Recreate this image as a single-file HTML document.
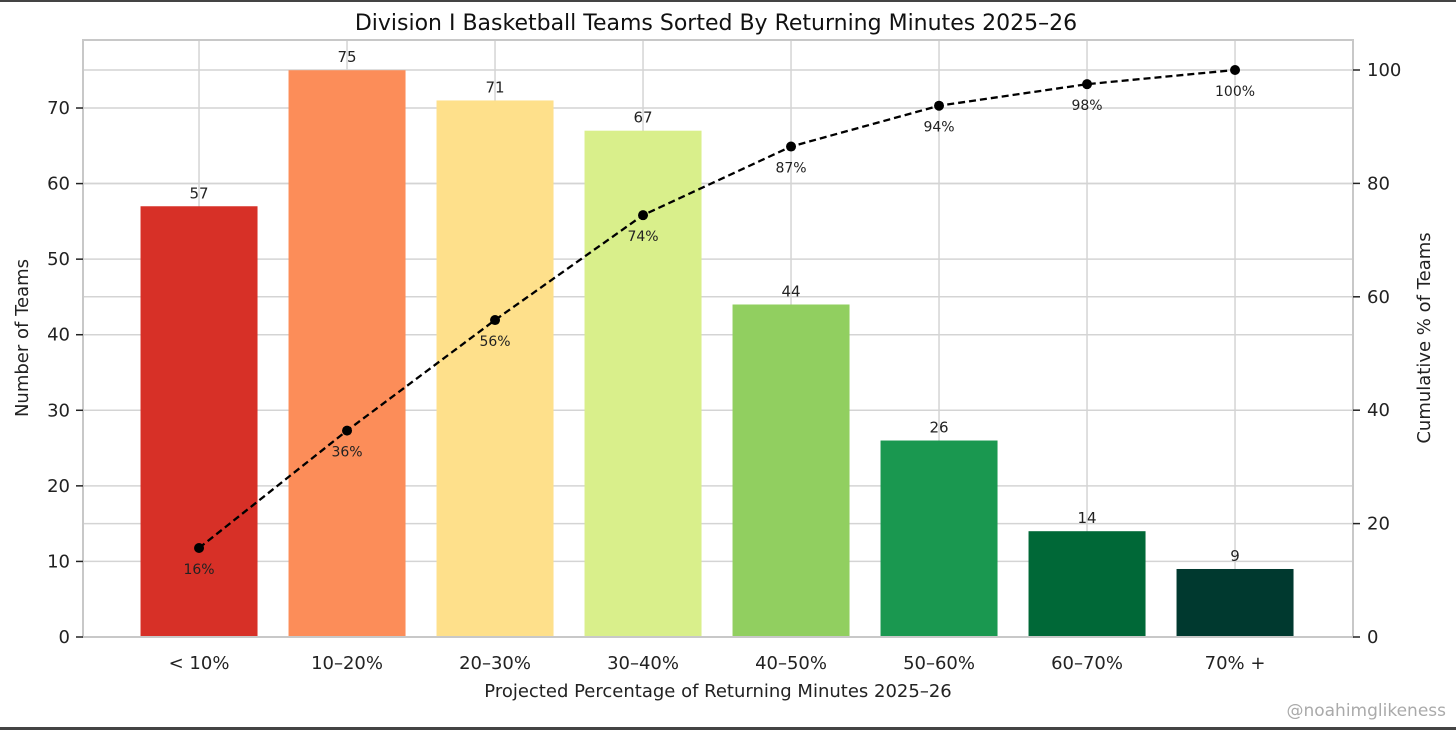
<!DOCTYPE html>
<html><head><meta charset="utf-8"><style>
html,body{margin:0;padding:0;background:#fff;}
svg{display:block;font-family:"DejaVu Sans","Liberation Sans",sans-serif;}
</style></head><body>
<svg id="chart" width="1456" height="730" viewBox="0 0 1456 730">
<rect x="0" y="0" width="1456" height="2" fill="#444"/>
<rect x="0" y="727" width="1456" height="3" fill="#444"/>
<text x="716" y="30" font-size="22" text-anchor="middle" fill="#111">Division I Basketball Teams Sorted By Returning Minutes 2025–26</text>
<g id="grid"></g><g id="bars"></g><g id="line"></g><g id="axes"></g>
<text x="718" y="697" font-size="18" text-anchor="middle" fill="#222">Projected Percentage of Returning Minutes 2025–26</text>
<text transform="translate(28,338) rotate(-90)" font-size="18" text-anchor="middle" fill="#222">Number of Teams</text>
<text transform="translate(1430,338) rotate(-90)" font-size="18" text-anchor="middle" fill="#222">Cumulative % of Teams</text>
<text x="1446" y="716" font-size="17" text-anchor="end" fill="#aaa">@noahimglikeness</text>
</svg>
<script>
const categories=["< 10%","10–20%","20–30%","30–40%","40–50%","50–60%","60–70%","70% +"];
const counts=[57,75,71,67,44,26,14,9];
const cumPct=[15.7,36.4,55.9,74.4,86.5,93.7,97.5,100];
const cumLabels=["16%","36%","56%","74%","87%","94%","98%","100%"];
const colors=["#d73027","#fc8d59","#fee08b","#d9ef8b","#91cf60","#1a9850","#006837","#00392f"];
const leftTicks=[0,10,20,30,40,50,60,70];
const rightTicks=[0,20,40,60,80,100];
const L=83,R=1353,T=40,B=637;
const xs=i=>L+(i+0.784)*148;
const yL=v=>B-v*7.557;
const yR=v=>B-v*5.67;
const NS="http://www.w3.org/2000/svg";
function mk(parent,tag,attrs){const e=document.createElementNS(NS,tag);for(const k in attrs)e.setAttribute(k,attrs[k]);document.getElementById(parent).appendChild(e);return e;}
// grid
leftTicks.forEach(t=>{const e=mk('grid','line',{x1:L,x2:R,y1:yL(t),y2:yL(t),stroke:'#d4d4d4','stroke-width':1.5});

});
rightTicks.forEach(t=>{const e=mk('grid','line',{x1:L,x2:R,y1:yR(t),y2:yR(t),stroke:'#d4d4d4','stroke-width':1.5});

});
categories.forEach((c,i)=>{const e=mk('grid','line',{x1:xs(i),x2:xs(i),y1:T,y2:B,stroke:'#d4d4d4','stroke-width':1.5});

});
// bars
counts.forEach((v,i)=>{
const b=mk('bars','rect',{x:xs(i)-58.5,y:yL(v),width:117,height:B-yL(v),fill:colors[i]});


const t=mk('bars','text',{x:xs(i),y:yL(v)-8,'font-size':15,'text-anchor':'middle',fill:'#222'});
t.textContent=v;


const xl=mk('axes','text',{x:xs(i),y:669,'font-size':18,'text-anchor':'middle',fill:'#222'});
xl.textContent=categories[i];


});
// line
const pts=cumPct.map((v,i)=>xs(i)+','+yR(v)).join(' ');
const pl=mk('line','polyline',{points:pts,fill:'none',stroke:'#000','stroke-width':2.3,'stroke-dasharray':'7,4'});


cumPct.forEach((v,i)=>{
const c=mk('line','circle',{cx:xs(i),cy:yR(v),r:5,fill:'#000'});


const t=mk('line','text',{x:xs(i),y:yR(v)+26,'font-size':14,'text-anchor':'middle',fill:'#222'});
t.textContent=cumLabels[i];


});
// axes frame
const fr=mk('axes','rect',{x:L,y:T,width:R-L,height:B-T,fill:'none',stroke:'#c8c8c8','stroke-width':2});


leftTicks.forEach(t=>{
const tk=mk('axes','line',{x1:L-7,x2:L,y1:yL(t),y2:yL(t),stroke:'#222','stroke-width':1.5});


const l=mk('axes','text',{x:L-13,y:yL(t)+6,'font-size':18,'text-anchor':'end',fill:'#222'});
l.textContent=t;


});
rightTicks.forEach(t=>{
const tk=mk('axes','line',{x1:R,x2:R+7,y1:yR(t),y2:yR(t),stroke:'#222','stroke-width':1.5});


const l=mk('axes','text',{x:R+14,y:yR(t)+6,'font-size':18,'text-anchor':'start',fill:'#222'});
l.textContent=t;


});
</script>
</body></html>
